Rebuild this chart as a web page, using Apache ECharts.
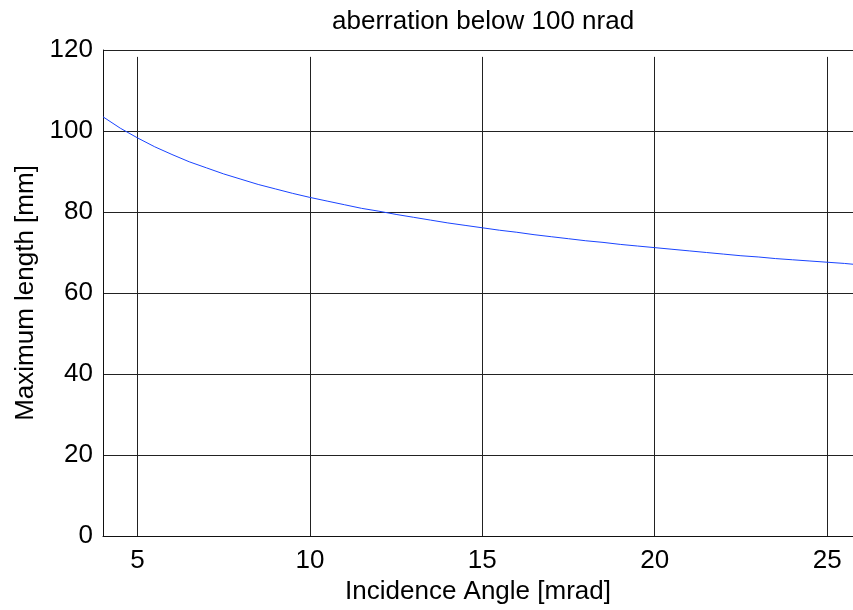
<!DOCTYPE html>
<html>
<head>
<meta charset="utf-8">
<script src="https://cdn.jsdelivr.net/npm/echarts@6/dist/echarts.min.js"></script>
<style>html,body{margin:0;padding:0;background:#fff;}#c{width:853px;height:610px;}</style>
</head>
<body>
<div id="c"></div>
<script>
const titleText = 'aberration below 100 nrad';
const xName = 'Incidence Angle [mrad]';
const yName = 'Maximum length [mm]';
const angles = [4, 4.5, 5, 5.5, 6, 6.5, 7, 7.5, 8, 8.5, 9, 9.5, 10, 10.5, 11, 11.5, 12, 12.5, 13, 13.5, 14, 14.5, 15, 15.5, 16, 16.5, 17, 17.5, 18, 18.5, 19, 19.5, 20, 20.5, 21, 21.5, 22, 22.5, 23, 23.5, 24, 24.5, 25, 25.5, 25.75];
const lengths = [103.5, 100.7, 98.3, 96.1, 94.2, 92.4, 90.9, 89.4, 88.1, 86.8, 85.7, 84.6, 83.6, 82.7, 81.8, 80.9, 80.2, 79.4, 78.7, 78.0, 77.3, 76.7, 76.1, 75.5, 75.0, 74.4, 73.9, 73.4, 72.9, 72.5, 72.0, 71.6, 71.2, 70.8, 70.4, 70.0, 69.6, 69.2, 68.9, 68.5, 68.2, 67.9, 67.6, 67.3, 67.1];
const xTicks = [5, 10, 15, 20, 25];
const yTicks = [0, 20, 40, 60, 80, 100, 120];

const font = 'Liberation Sans, Arial, Helvetica, sans-serif';
const fs = 26;
const chart = echarts.init(document.getElementById('c'), null, {renderer: 'canvas'});
const data = angles.map((a, i) => [a, lengths[i]]);
const gridTop = yTicks[yTicks.length - 1] - 1.7;
chart.setOption({
  animation: false,
  backgroundColor: '#fff',
  title: {
    text: titleText, left: 327, top: 4,
    textStyle: {fontFamily: font, fontSize: fs, fontWeight: 'normal', color: '#000'}
  },
  grid: {left: 103, right: 0, top: 50, bottom: 72, containLabel: false},
  xAxis: {
    type: 'value', min: 4, max: 25.75,
    name: xName, nameLocation: 'middle', nameGap: 43,
    nameTextStyle: {fontFamily: font, fontSize: fs, color: '#000'},
    axisLine: {show: true, lineStyle: {color: '#111', width: 1}},
    axisTick: {show: false},
    splitLine: {show: false},
    axisLabel: {customValues: xTicks, fontFamily: font, fontSize: fs, color: '#000', margin: 12}
  },
  yAxis: {
    type: 'value', min: 0, max: 120, interval: 20,
    name: yName, nameLocation: 'middle', nameGap: 64,
    nameTextStyle: {fontFamily: font, fontSize: fs, color: '#000'},
    axisLine: {show: true, lineStyle: {color: '#111', width: 1}},
    axisTick: {show: false},
    splitLine: {show: true, lineStyle: {color: '#222', width: 1}},
    axisLabel: {fontFamily: font, fontSize: fs, color: '#000', margin: 10}
  },
  series: [{
    type: 'line', data: data, showSymbol: false, symbol: 'none',
    lineStyle: {color: '#1a44ff', width: 1}, z: 5,
    markLine: {
      silent: true, symbol: 'none', label: {show: false},
      lineStyle: {color: '#222', width: 1, type: 'solid'},
      data: xTicks.map(v => [{coord: [v, gridTop]}, {coord: [v, 0]}])
    }
  }]
});
</script>
</body>
</html>
